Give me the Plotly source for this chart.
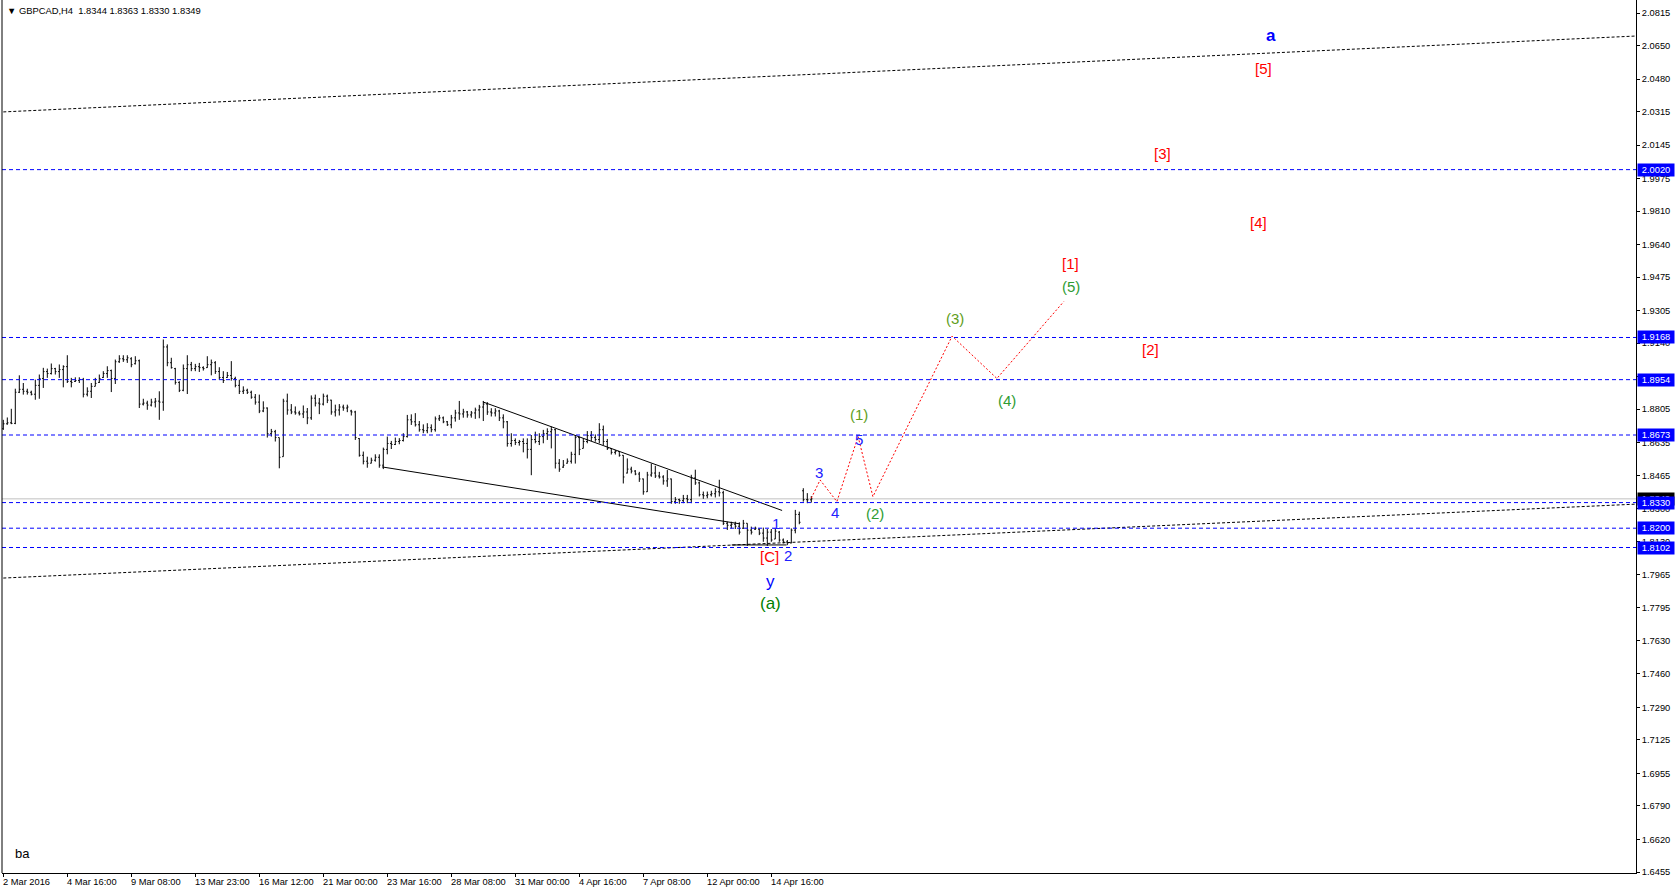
import plotly.graph_objects as go

# ---------------- data ----------------
bar_index = list(range(203))
opens = [
1.8705,1.8730,1.8735,1.8732,1.8890,1.8905,1.8895,1.8890,1.8880,1.8925,
1.8960,1.8995,1.8985,1.9010,1.8995,1.9005,1.9020,1.8945,1.8945,1.8950,
1.8955,1.8880,1.8895,1.8920,1.8940,1.8965,1.8985,1.9000,1.8960,1.9045,
1.9060,1.9055,1.9060,1.9035,1.9050,1.8830,1.8835,1.8825,1.8840,1.8845,
1.8840,1.9120,1.9040,1.9010,1.8940,1.8900,1.9010,1.9030,1.9010,1.9020,
1.9015,1.9015,1.9030,1.9040,1.8995,1.8965,1.8965,1.8975,1.8960,1.8925,
1.8895,1.8900,1.8890,1.8865,1.8840,1.8795,1.8810,1.8680,1.8690,1.8660,
1.8563,1.8845,1.8800,1.8790,1.8785,1.8780,1.8790,1.8760,1.8860,1.8835,
1.8830,1.8870,1.8850,1.8790,1.8800,1.8815,1.8810,1.8795,1.8790,1.8655,
1.8570,1.8540,1.8530,1.8545,1.8560,1.8520,1.8600,1.8630,1.8625,1.8640,
1.8645,1.8665,1.8750,1.8740,1.8725,1.8700,1.8695,1.8710,1.8700,1.8755,
1.8760,1.8740,1.8725,1.8760,1.8785,1.8780,1.8790,1.8775,1.8785,1.8800,
1.8815,1.8830,1.8790,1.8785,1.8795,1.8760,1.8740,1.8630,1.8645,1.8635,
1.8640,1.8630,1.8600,1.8650,1.8640,1.8665,1.8680,1.8690,1.8700,1.8530,
1.8510,1.8530,1.8540,1.8575,1.8660,1.8605,1.8640,1.8670,1.8660,1.8650,
1.8700,1.8640,1.8605,1.8585,1.8590,1.8570,1.8480,1.8500,1.8490,1.8475,
1.8450,1.8385,1.8470,1.8480,1.8465,1.8460,1.8440,1.8450,1.8335,1.8345,
1.8340,1.8350,1.8345,1.8455,1.8430,1.8370,1.8365,1.8370,1.8375,1.8385,
1.8380,1.8225,1.8215,1.8220,1.8210,1.8200,1.8225,1.8190,1.8195,1.8195,
1.8175,1.8150,1.8180,1.8145,1.8180,1.8140,1.8130,1.8125,1.8190,1.8270,
1.8390,1.8345,1.8344]
highs = [
1.8750,1.8762,1.8806,1.8908,1.8976,1.8937,1.8908,1.8898,1.8954,1.8980,
1.9014,1.9010,1.9036,1.9014,1.9031,1.9027,1.9078,1.8963,1.8966,1.8966,
1.8963,1.8915,1.8937,1.8963,1.8980,1.8997,1.9022,1.9005,1.9056,1.9078,
1.9078,1.9078,1.9068,1.9073,1.9056,1.8857,1.8847,1.8857,1.8861,1.8895,
1.9158,1.9133,1.9065,1.9014,1.8946,1.9031,1.9078,1.9044,1.9034,1.9039,
1.9022,1.9073,1.9056,1.9048,1.9017,1.8997,1.8993,1.9048,1.8969,1.8954,
1.8920,1.8908,1.8898,1.8881,1.8878,1.8844,1.8813,1.8704,1.8699,1.8660,
1.8857,1.8883,1.8830,1.8818,1.8796,1.8823,1.8810,1.8874,1.8878,1.8861,
1.8883,1.8878,1.8852,1.8827,1.8830,1.8827,1.8827,1.8801,1.8796,1.8657,
1.8589,1.8563,1.8558,1.8575,1.8575,1.8609,1.8665,1.8643,1.8660,1.8657,
1.8682,1.8775,1.8778,1.8784,1.8744,1.8727,1.8733,1.8727,1.8767,1.8775,
1.8767,1.8744,1.8775,1.8801,1.8846,1.8806,1.8795,1.8795,1.8812,1.8826,
1.8846,1.8840,1.8809,1.8809,1.8801,1.8778,1.8744,1.8682,1.8656,1.8648,
1.8656,1.8656,1.8673,1.8690,1.8682,1.8699,1.8707,1.8716,1.8704,1.8551,
1.8546,1.8554,1.8588,1.8673,1.8665,1.8656,1.8693,1.8693,1.8676,1.8733,
1.8721,1.8653,1.8605,1.8597,1.8591,1.8571,1.8554,1.8512,1.8495,1.8486,
1.8452,1.8486,1.8528,1.8517,1.8486,1.8469,1.8495,1.8452,1.8358,1.8350,
1.8369,1.8369,1.8471,1.8497,1.8437,1.8386,1.8386,1.8390,1.8403,1.8446,
1.8390,1.8233,1.8233,1.8233,1.8230,1.8242,1.8225,1.8208,1.8208,1.8199,
1.8203,1.8196,1.8196,1.8199,1.8186,1.8148,1.8140,1.8199,1.8293,1.8284,
1.8403,1.8378,1.8363]
lows = [
1.8699,1.8725,1.8728,1.8728,1.8886,1.8878,1.8878,1.8874,1.8852,1.8857,
1.8912,1.8963,1.8980,1.8980,1.8963,1.8915,1.8937,1.8915,1.8942,1.8937,
1.8864,1.8869,1.8861,1.8920,1.8937,1.8963,1.8963,1.8891,1.8932,1.9039,
1.9044,1.9039,1.9017,1.9031,1.8810,1.8823,1.8801,1.8818,1.8813,1.8750,
1.8796,1.9022,1.9010,1.8929,1.8891,1.8895,1.8881,1.8997,1.8997,1.8993,
1.9000,1.9014,1.8976,1.8983,1.8954,1.8937,1.8963,1.8949,1.8915,1.8881,
1.8881,1.8881,1.8857,1.8827,1.8784,1.8789,1.8660,1.8665,1.8640,1.8504,
1.8563,1.8776,1.8779,1.8776,1.8772,1.8759,1.8728,1.8750,1.8818,1.8779,
1.8823,1.8835,1.8776,1.8767,1.8772,1.8796,1.8789,1.8772,1.8648,1.8563,
1.8524,1.8507,1.8529,1.8538,1.8507,1.8500,1.8575,1.8602,1.8622,1.8626,
1.8640,1.8660,1.8724,1.8716,1.8690,1.8682,1.8682,1.8687,1.8690,1.8744,
1.8733,1.8719,1.8707,1.8741,1.8750,1.8761,1.8761,1.8761,1.8755,1.8758,
1.8744,1.8775,1.8767,1.8767,1.8744,1.8707,1.8614,1.8614,1.8622,1.8619,
1.8585,1.8554,1.8469,1.8631,1.8622,1.8631,1.8648,1.8605,1.8503,1.8486,
1.8506,1.8528,1.8528,1.8528,1.8571,1.8605,1.8631,1.8642,1.8639,1.8631,
1.8622,1.8597,1.8574,1.8574,1.8563,1.8427,1.8478,1.8478,1.8469,1.8435,
1.8370,1.8384,1.8461,1.8455,1.8452,1.8421,1.8410,1.8324,1.8324,1.8324,
1.8327,1.8327,1.8327,1.8420,1.8361,1.8349,1.8352,1.8361,1.8356,1.8361,
1.8216,1.8191,1.8199,1.8196,1.8168,1.8196,1.8110,1.8168,1.8191,1.8165,
1.8131,1.8110,1.8131,1.8145,1.8131,1.8123,1.8114,1.8123,1.8174,1.8220,
1.8335,1.8327,1.8330]
closes = [
1.8730,1.8735,1.8732,1.8890,1.8905,1.8895,1.8890,1.8880,1.8925,1.8960,
1.8995,1.8985,1.9010,1.8995,1.9005,1.9020,1.8945,1.8940,1.8950,1.8955,
1.8880,1.8895,1.8920,1.8935,1.8960,1.8985,1.9000,1.8960,1.9045,1.9060,
1.9055,1.9065,1.9030,1.9050,1.8830,1.8835,1.8825,1.8840,1.8845,1.8840,
1.9120,1.9040,1.9015,1.8940,1.8900,1.9010,1.9030,1.9010,1.9020,1.9015,
1.9010,1.9030,1.9040,1.8995,1.8965,1.8950,1.8975,1.8960,1.8925,1.8895,
1.8900,1.8890,1.8865,1.8840,1.8795,1.8810,1.8680,1.8690,1.8660,1.8560,
1.8845,1.8800,1.8790,1.8785,1.8780,1.8790,1.8760,1.8860,1.8835,1.8830,
1.8870,1.8850,1.8790,1.8800,1.8815,1.8810,1.8815,1.8790,1.8660,1.8570,
1.8540,1.8530,1.8545,1.8560,1.8520,1.8600,1.8630,1.8625,1.8640,1.8645,
1.8665,1.8750,1.8740,1.8725,1.8700,1.8695,1.8710,1.8700,1.8755,1.8760,
1.8740,1.8725,1.8760,1.8785,1.8780,1.8790,1.8775,1.8785,1.8800,1.8815,
1.8830,1.8790,1.8785,1.8795,1.8760,1.8740,1.8630,1.8645,1.8635,1.8640,
1.8630,1.8600,1.8650,1.8640,1.8665,1.8680,1.8690,1.8700,1.8530,1.8500,
1.8520,1.8540,1.8575,1.8660,1.8600,1.8640,1.8670,1.8660,1.8650,1.8700,
1.8640,1.8605,1.8585,1.8590,1.8570,1.8460,1.8500,1.8490,1.8475,1.8450,
1.8385,1.8470,1.8480,1.8465,1.8460,1.8440,1.8450,1.8335,1.8345,1.8340,
1.8350,1.8345,1.8455,1.8430,1.8370,1.8365,1.8370,1.8375,1.8385,1.8380,
1.8225,1.8215,1.8220,1.8210,1.8180,1.8225,1.8190,1.8180,1.8200,1.8175,
1.8150,1.8180,1.8140,1.8185,1.8140,1.8130,1.8125,1.8190,1.8270,1.8230,
1.8345,1.8344,1.8349]

date_labels = ["2 Mar 2016", "4 Mar 16:00", "9 Mar 08:00", "13 Mar 23:00", "16 Mar 12:00",
               "21 Mar 00:00", "23 Mar 16:00", "28 Mar 08:00", "31 Mar 00:00", "4 Apr 16:00",
               "7 Apr 08:00", "12 Apr 00:00", "14 Apr 16:00"]
date_positions = [0, 16, 32, 48, 64, 80, 96, 112, 128, 144, 160, 176, 192]

price_ticks = [2.0815, 2.0650, 2.0480, 2.0315, 2.0145, 1.9975, 1.9810, 1.9640, 1.9475, 1.9305,
               1.9140, 1.8970, 1.8805, 1.8635, 1.8465, 1.8300, 1.8130, 1.7965, 1.7795, 1.7630,
               1.7460, 1.7290, 1.7125, 1.6955, 1.6790, 1.6620, 1.6455]

levels = [2.0020, 1.9168, 1.8954, 1.8673, 1.8330, 1.8200, 1.8102]
bid_price = 1.8349

channel_top_x = [0, 408]
channel_top_y = [2.0313, 2.0698]
channel_bottom_x = [0, 408]
channel_bottom_y = [1.7947, 1.8322]
wedge_upper_x = [119.9, 194.7]
wedge_upper_y = [1.8841, 1.8290]
wedge_lower_x = [94.7, 184.2]
wedge_lower_y = [1.8511, 1.8222]
base_x = [182.1, 195.8]
base_y = [1.8115, 1.8115]

forecast_x = [202, 204.2, 208.4, 213.7, 217.4, 237.2, 248.4, 265.1]
forecast_y = [1.8352, 1.8445, 1.8335, 1.8665, 1.8360, 1.9175, 1.8960, 1.9350]

wave_texts = ["1", "2", "[C]", "y", "(a)", "3", "4", "5", "(1)", "(2)", "(3)", "(4)", "(5)",
              "[1]", "[2]", "[3]", "[4]", "[5]", "a"]
wave_x = [193.2, 196.1, 191.6, 191.9, 191.9, 203.9, 207.9, 213.9, 213.9, 217.9, 237.8, 250.9, 266.9,
          266.9, 286.9, 289.9, 313.9, 315.05, 316.9]
wave_y = [1.8226, 1.8059, 1.8054, 1.7930, 1.7820, 1.8483, 1.8282, 1.8648, 1.8775, 1.8277, 1.9264,
          1.8846, 1.9427, 1.9546, 1.9107, 2.0104, 1.9754, 2.0534, 2.0703]
wave_colors = ["#2020ff", "#2020ff", "#ff0000", "#0000ff", "#008000", "#2020ff", "#2020ff", "#2020ff",
               "#5f9e1a", "#2e9c33", "#5f9e1a", "#2e9c33", "#2e9c33",
               "#ff0000", "#ff0000", "#ff0000", "#ff0000", "#ff0000", "#0000ff"]
wave_sizes = [15, 15, 15, 17, 17, 15, 15, 15, 15, 15, 15, 15, 15, 15, 15, 15, 15, 15, 17]

title_text = "\u25bc GBPCAD,H4\u00a0\u00a01.8344 1.8363 1.8330 1.8349"

# ---------------- figure ----------------
FONT = "Liberation Sans, Arial, sans-serif"
fig = go.Figure()

fig.add_trace(go.Ohlc(
    x=bar_index, open=opens, high=highs, low=lows, close=closes,
    increasing=dict(line=dict(color="black", width=1)),
    decreasing=dict(line=dict(color="black", width=1)),
    tickwidth=0.3, hoverinfo="skip", showlegend=False))

def add_line(xs, ys, color, dash, width=1):
    fig.add_trace(go.Scatter(x=xs, y=ys, mode="lines", showlegend=False, hoverinfo="skip",
                             line=dict(color=color, width=width, dash=dash)))

add_line(channel_top_x, channel_top_y, "black", "3px,2px")
add_line(channel_bottom_x, channel_bottom_y, "black", "3px,2px")
add_line(wedge_upper_x, wedge_upper_y, "black", "solid")
add_line(wedge_lower_x, wedge_lower_y, "black", "solid")
add_line(base_x, base_y, "black", "solid")
add_line(forecast_x, forecast_y, "#ff0000", "2px,2px")

shapes = []
shapes.append(dict(type="line", xref="paper", x0=0, x1=1, yref="y", y0=bid_price, y1=bid_price,
                   line=dict(color="#c0c0c0", width=1), layer="below"))
for lv in levels:
    shapes.append(dict(type="line", xref="paper", x0=0, x1=1, yref="y", y0=lv, y1=lv,
                       line=dict(color="#0000ff", width=1, dash="4px,3px")))
shapes.append(dict(type="line", xref="paper", x0=0, x1=0, yref="paper", y0=0, y1=1,
                   line=dict(color="black", width=1)))

annotations = []
# current bid box (mostly hidden behind the 1.8330 box)
annotations.append(dict(xref="paper", x=1, xanchor="left", xshift=1, yref="y", y=bid_price,
                        text=f"{bid_price:.4f}", showarrow=False, bgcolor="black",
                        font=dict(family=FONT, size=9.3, color="white"), borderpad=1, width=34))
for lv in levels:
    annotations.append(dict(xref="paper", x=1, xanchor="left", xshift=1, yref="y", y=lv,
                            text=f"{lv:.4f}", showarrow=False, bgcolor="#0000ff",
                            font=dict(family=FONT, size=9.3, color="white"), borderpad=1, width=34))
for lab, pos in zip(date_labels, date_positions):
    annotations.append(dict(xref="x", x=pos, xanchor="left", xshift=-2, yref="paper", y=0,
                            yanchor="top", yshift=-2, text=lab, showarrow=False,
                            font=dict(family=FONT, size=9.3, color="black")))
for t, xx, yy, c, s in zip(wave_texts, wave_x, wave_y, wave_colors, wave_sizes):
    annotations.append(dict(xref="x", x=xx, yref="y", y=yy, text=(f"<b>{t}</b>" if t == "a" else t),
                            showarrow=False, font=dict(family=FONT, size=s, color=c)))
annotations.append(dict(xref="paper", x=0, xanchor="left", xshift=3, yref="paper", y=1,
                        yanchor="top", yshift=-3, text=title_text, showarrow=False,
                        font=dict(family=FONT, size=9.4, color="black")))
annotations.append(dict(xref="paper", x=0, xanchor="left", xshift=11, yref="paper", y=0,
                        yanchor="bottom", yshift=10, text="ba", showarrow=False,
                        font=dict(family=FONT, size=13, color="black")))

fig.update_layout(
    width=1676, height=894,
    margin=dict(l=2, r=40, t=0, b=21),
    paper_bgcolor="white", plot_bgcolor="white",
    shapes=shapes, annotations=annotations,
    xaxis=dict(range=[-0.325, 408.175], showgrid=False, zeroline=False, showline=True,
               linecolor="black", linewidth=1, tickvals=date_positions, ticks="outside",
               ticklen=3, tickcolor="black", showticklabels=False,
               rangeslider=dict(visible=False), fixedrange=True),
    yaxis=dict(range=[1.64499, 2.0881], side="right", showgrid=False, zeroline=False,
               showline=True, linecolor="black", linewidth=1, tickvals=price_ticks,
               ticktext=[f"{v:.4f}" for v in price_ticks], ticks="outside", ticklen=3,
               tickcolor="black", tickfont=dict(family=FONT, size=9.3, color="black"),
               fixedrange=True),
)

fig.write_html("out.html", config={"displayModeBar": False},
               post_script="document.body.style.margin='0';document.body.style.overflow='hidden';")
